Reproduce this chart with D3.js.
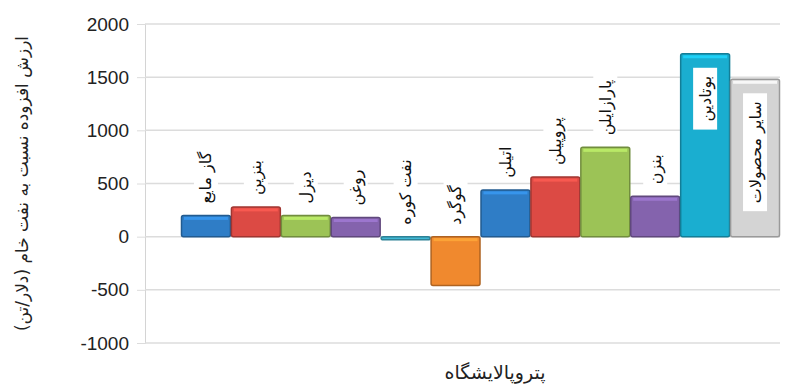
<!DOCTYPE html>
<html>
<head>
<meta charset="utf-8">
<script src="https://cdn.jsdelivr.net/npm/d3@7/dist/d3.min.js"></script>
<style>
  body { margin: 0; background: #fff; }
  svg { display: block; }
  .tick text { font-family: "Liberation Sans", Arial, sans-serif; }
</style>
</head>
<body>
<div id="chart"></div>
<script>
(function () {
    'use strict';

    // products (left to right) and value added vs. crude oil ($/ton)
    var products = ['گاز مایع', 'بنزین', 'دیزل', 'روغن', 'نفت کوره', 'گوگرد',
                    'اتیلن', 'پروپیلن', 'پارازایلن', 'بنزن', 'بوتادین', 'سایر محصولات'];
    var values = [200, 280, 200, 180, -30, -460, 440, 560, 840, 380, 1720, 1480];
    var colors = ['#2f7dc6', '#dc4a44', '#9cc356', '#8463ad', '#3fb3cf', '#f0892e',
                  '#2f7dc6', '#dc4a44', '#9cc356', '#8463ad', '#1aaed0', '#d4d4d4'];
    var yTicks = [-1000, -500, 0, 500, 1000, 1500, 2000];
    var yTitle = 'ارزش افزوده نسبت به نفت خام (دلار/تن)';
    var xTitle = 'پتروپالایشگاه';

    var W = 806, H = 385;
    var svg = d3.select('#chart').append('svg')
        .attr('width', W).attr('height', H);

    var x = d3.scaleBand().domain(products).range([181, 780]).padding(0);
    var y = d3.scaleLinear().domain([-1000, 2000]).range([343, 24]);

    // grid + y axis
    var yAxis = d3.axisLeft(y).tickValues(yTicks).tickSize(8).tickPadding(8)
        .tickFormat(d => String(d));
    var gy = svg.append('g').attr('transform', 'translate(145,0)').call(yAxis);
    gy.select('.domain').attr('stroke', '#d4d4d4');
    gy.selectAll('.tick line').attr('stroke', '#dcdcdc');
    gy.selectAll('.tick text').attr('font-size', 19).attr('fill', '#222');

    svg.append('g').selectAll('line')
        .data(yTicks)
      .enter().append('line')
        .attr('x1', 145).attr('x2', 780)
        .attr('y1', d => y(d)).attr('y2', d => y(d))
        .attr('stroke', '#dcdcdc').attr('stroke-width', 1.5);

    // bars
    var bars = svg.append('g');
    products.forEach(function (p, i) {
        var v = values[i];
        var x0 = x(p), bw = x.bandwidth();
        var top = y(Math.max(0, v)), bot = y(Math.min(0, v));
        var c = d3.color(colors[i]);
        bars.append('rect')
            .attr('x', x0 + 0.5).attr('y', top)
            .attr('width', bw - 1).attr('height', Math.max(bot - top, 2))
            .attr('rx', 2)
            .attr('fill', colors[i])
            .attr('stroke', c.darker(0.9)).attr('stroke-width', 1.5);
        // bevel highlight
        bars.append('rect')
            .attr('x', x0 + 3).attr('y', top + 1.5)
            .attr('width', bw - 6).attr('height', Math.min(3, Math.max(bot - top - 3, 0)))
            .attr('fill', c.brighter(0.6)).attr('opacity', 0.8);
    });

    // rotated category labels with white boxes
    var labels = svg.append('g');
    products.forEach(function (p, i) {
        var v = values[i];
        var cx = x(p) + x.bandwidth() / 2;
        var g = labels.append('g');
        var box = g.append('rect').attr('fill', '#fff');
        var t = g.append('text')
            .attr('text-anchor', 'middle')
            .attr('dominant-baseline', 'central')
            .attr('font-family', '"DejaVu Sans", "Noto Sans", sans-serif')
            .attr('font-size', 16)
            .attr('fill', '#111')
            .attr('transform', 'rotate(-90)')
            .text(p);
        var len = t.node().getComputedTextLength();
        var top = y(Math.max(0, v));
        var cy = v > 1200 ? top + 22 + len / 2 : top - 12 - len / 2;
        var pad = v > 1200 ? 8 : 4;
        box.attr('x', -12).attr('y', -len / 2 - pad)
            .attr('width', 24).attr('height', len + pad * 2);
        g.attr('transform', 'translate(' + cx + ',' + cy + ')');
    });

    // axis titles
    svg.append('text')
        .attr('transform', 'translate(22,' + y(500) + ') rotate(-90)')
        .attr('text-anchor', 'middle')
        .attr('dominant-baseline', 'central')
        .attr('font-family', '"DejaVu Sans", sans-serif')
        .attr('font-size', 17).attr('fill', '#222')
        .text(yTitle);

    svg.append('text')
        .attr('x', 495).attr('y', 372)
        .attr('text-anchor', 'middle')
        .attr('dominant-baseline', 'central')
        .attr('font-family', '"DejaVu Sans", sans-serif')
        .attr('font-size', 19).attr('fill', '#222')
        .text(xTitle);
}());
</script>
</body>
</html>
